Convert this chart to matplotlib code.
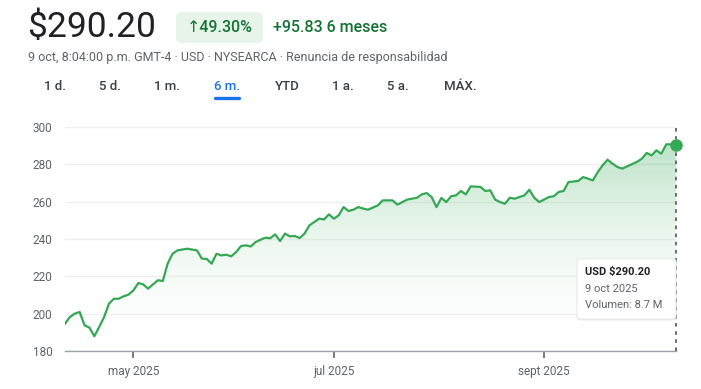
import numpy as np
import pandas as pd
import matplotlib
matplotlib.use("Agg")
import matplotlib.pyplot as plt
from matplotlib.patches import FancyBboxPatch

plt.rcParams['font.family'] = ['Roboto', 'DejaVu Sans']

# datos (precio de cierre, USD), dias de mercado
dates = [
    "2025-04-10", "2025-04-11", "2025-04-14", "2025-04-15", "2025-04-16", "2025-04-17",
    "2025-04-21", "2025-04-22", "2025-04-23", "2025-04-24", "2025-04-25", "2025-04-28",
    "2025-04-29", "2025-04-30", "2025-05-01", "2025-05-02", "2025-05-05", "2025-05-06",
    "2025-05-07", "2025-05-08", "2025-05-09", "2025-05-12", "2025-05-13", "2025-05-14",
    "2025-05-16", "2025-05-20", "2025-05-21", "2025-05-22", "2025-05-23", "2025-05-27",
    "2025-05-28", "2025-05-29", "2025-05-30", "2025-06-02", "2025-06-03", "2025-06-04",
    "2025-06-05", "2025-06-06", "2025-06-09", "2025-06-10", "2025-06-11", "2025-06-12",
    "2025-06-13", "2025-06-16", "2025-06-17", "2025-06-18", "2025-06-20", "2025-06-23",
    "2025-06-24", "2025-06-25", "2025-06-26", "2025-06-27", "2025-06-30", "2025-07-01",
    "2025-07-02", "2025-07-03", "2025-07-07", "2025-07-08", "2025-07-09", "2025-07-10",
    "2025-07-11", "2025-07-15", "2025-07-16", "2025-07-18", "2025-07-21", "2025-07-23",
    "2025-07-25", "2025-07-28", "2025-07-29", "2025-07-30", "2025-07-31", "2025-08-01",
    "2025-08-04", "2025-08-05", "2025-08-06", "2025-08-07", "2025-08-08", "2025-08-11",
    "2025-08-13", "2025-08-14", "2025-08-15", "2025-08-18", "2025-08-19", "2025-08-20",
    "2025-08-21", "2025-08-22", "2025-08-26", "2025-08-27", "2025-08-28", "2025-08-29",
    "2025-09-02", "2025-09-03", "2025-09-04", "2025-09-05", "2025-09-08", "2025-09-09",
    "2025-09-11", "2025-09-12", "2025-09-15", "2025-09-16", "2025-09-17", "2025-09-18",
    "2025-09-19", "2025-09-22", "2025-09-23", "2025-09-24", "2025-09-25", "2025-09-29",
    "2025-09-30", "2025-10-01", "2025-10-02", "2025-10-03", "2025-10-06", "2025-10-07",
    "2025-10-08", "2025-10-09",
]
prices = [
    194.6, 198.2, 200.0, 200.9, 193.8, 192.5, 187.9, 192.9, 198.2, 205.4, 208.0, 208.0,
    209.3, 210.2, 212.5, 216.4, 215.7, 213.4, 215.7, 217.9, 217.5, 226.8, 232.1, 233.9,
    234.8, 233.9, 229.5, 229.3, 226.8, 232.1, 231.2, 231.6, 230.7, 233.0, 236.2, 236.6,
    236.0, 238.4, 239.6, 240.7, 240.4, 242.5, 238.9, 242.9, 241.4, 241.6, 240.5, 242.9,
    247.3, 249.1, 250.9, 250.5, 253.2, 250.9, 252.7, 257.1, 255.0, 255.7, 257.1, 256.3,
    255.7, 258.0, 260.7, 260.7, 258.4, 261.1, 262.1, 263.9, 264.6, 262.5, 257.1, 262.0,
    259.8, 262.9, 263.4, 265.7, 263.9, 268.2, 267.9, 265.7, 266.1, 261.1, 259.8, 258.9,
    262.1, 261.6, 263.4, 266.4, 262.1, 259.8, 261.1, 262.5, 262.9, 265.2, 265.7, 270.5,
    271.1, 273.2, 272.3, 271.4, 275.9, 279.5, 282.5, 280.4, 278.6, 277.7, 278.9, 281.3,
    283.0, 286.1, 284.8, 287.5, 285.7, 290.7, 290.7, 290.2,
]
holidays = ["2025-04-18", "2025-05-26", "2025-06-19", "2025-07-04", "2025-09-01"]
y_ticks = [180, 200, 220, 240, 260, 280, 300]
x_ticks = ["2025-05-01", "2025-07-01", "2025-09-02"]
x_tick_labels = ["may 2025", "jul 2025", "sept 2025"]
tabs = ["1 d.", "5 d.", "1 m.", "6 m.", "YTD", "1 a.", "5 a.", "MÁX."]
tab_pos = [55, 110, 167, 227, 287, 343, 398, 460]

# eje por dias de mercado (como en Google Finanzas)
sessions = pd.bdate_range(dates[0], dates[-1], freq="C", holidays=holidays)
x = sessions.get_indexer(pd.to_datetime(dates))
xt = sessions.get_indexer(pd.to_datetime(x_ticks))

verde = "#34a853"
gris = "#5f6368"

W, H = 701, 389
fig = plt.figure(figsize=(W / 100, H / 100), dpi=100)
ax = fig.add_axes([65 / W, 1 - 351 / H, 611 / W, 224 / H])

ax.plot(x, prices, color=verde, lw=1.6, zorder=3, solid_joinstyle="round")

# relleno con degradado
poly = ax.fill_between(x, prices, 180, color="none", lw=0)
grad = np.linspace(0, 1, 256).reshape(-1, 1)
cmap = matplotlib.colors.LinearSegmentedColormap.from_list(
    "g", [(1, 1, 1, 0), (0.20, 0.66, 0.33, 0.38)])
img = ax.imshow(grad, cmap=cmap, aspect="auto", origin="lower",
                extent=[x[0], x[-1], 180, 300], zorder=2)
img.set_clip_path(poly.get_paths()[0], transform=ax.transData)

ax.set_xlim(x[0], x[-1])
ax.set_ylim(180, 300)
ax.set_yticks(y_ticks)
ax.set_xticks(xt)
ax.set_xticklabels(x_tick_labels)
ax.grid(axis="y", color="#eeeeee", lw=0.9)
ax.set_axisbelow(True)
for s in ["top", "right", "left"]:
    ax.spines[s].set_visible(False)
ax.spines["bottom"].set_color("#9aa0a6")
ax.spines["bottom"].set_linewidth(1.0)
ax.tick_params(axis="y", length=0, pad=9, labelsize=8.5, labelcolor=gris)
ax.tick_params(axis="x", length=5, width=1.2, color=gris, pad=5,
               labelsize=8.5, labelcolor=gris)

# linea punteada y punto final
ax.axvline(x[-1], color=gris, lw=1.3, ls=(0, (2, 2.5)), zorder=4, clip_on=False)
ax.plot([x[-1]], [prices[-1]], "o", ms=8, color=verde, zorder=5, clip_on=False)

# cabecera
fig.text(27 / W, 1 - 27 / H, "$290.20", fontsize=25.5, color="#202124", va="center")
fig.add_artist(FancyBboxPatch((176 / W, 1 - 43 / H), 87 / W, 31 / H,
                              boxstyle="round,pad=0,rounding_size=0.012",
                              transform=fig.transFigure, fc="#e6f4ea", ec="none"))
fig.text(219.5 / W, 1 - 27 / H, "↑49.30%", fontsize=11.5, color="#137333",
         ha="center", va="center", fontweight="medium")
fig.text(273 / W, 1 - 27 / H, "+95.83 6 meses", fontsize=11.5, color="#137333",
         va="center", fontweight="medium")
fig.text(28 / W, 1 - 58 / H,
         "9 oct, 8:04:00 p.m. GMT-4 · USD · NYSEARCA · Renuncia de responsabilidad",
         fontsize=9, color=gris, va="center")

for t, p in zip(tabs, tab_pos):
    c = "#1a73e8" if t == "6 m." else "#3c4043"
    fig.text(p / W, 1 - 87 / H, t, fontsize=9.5, color=c, ha="center", va="center",
             fontweight="medium")
fig.add_artist(plt.Line2D([215 / W, 239 / W], [1 - 97.5 / H, 1 - 97.5 / H],
                          color="#1a73e8", lw=2.4, solid_capstyle="round",
                          transform=fig.transFigure))

# recuadro de informacion
fig.add_artist(FancyBboxPatch((578 / W, 1 - 320.5 / H), 99 / W, 60 / H,
                              boxstyle="round,pad=0,rounding_size=0.005",
                              transform=fig.transFigure, fc="#000000", ec="none",
                              alpha=0.08, zorder=9))
fig.add_artist(FancyBboxPatch((577 / W, 1 - 319 / H), 99 / W, 60 / H,
                              boxstyle="round,pad=0,rounding_size=0.005",
                              transform=fig.transFigure, fc="white", ec="#e3e3e3",
                              lw=0.6, zorder=10))
fig.text(585 / W, 1 - 272 / H, "USD $290.20", fontsize=8, color="#202124",
         fontweight="bold", va="center", zorder=11)
fig.text(585 / W, 1 - 288.5 / H, "9 oct 2025", fontsize=8, color=gris,
         va="center", zorder=11)
fig.text(585 / W, 1 - 305 / H, "Volumen: 8.7 M", fontsize=8, color=gris,
         va="center", zorder=11)

fig.savefig("out.png", dpi=100)
